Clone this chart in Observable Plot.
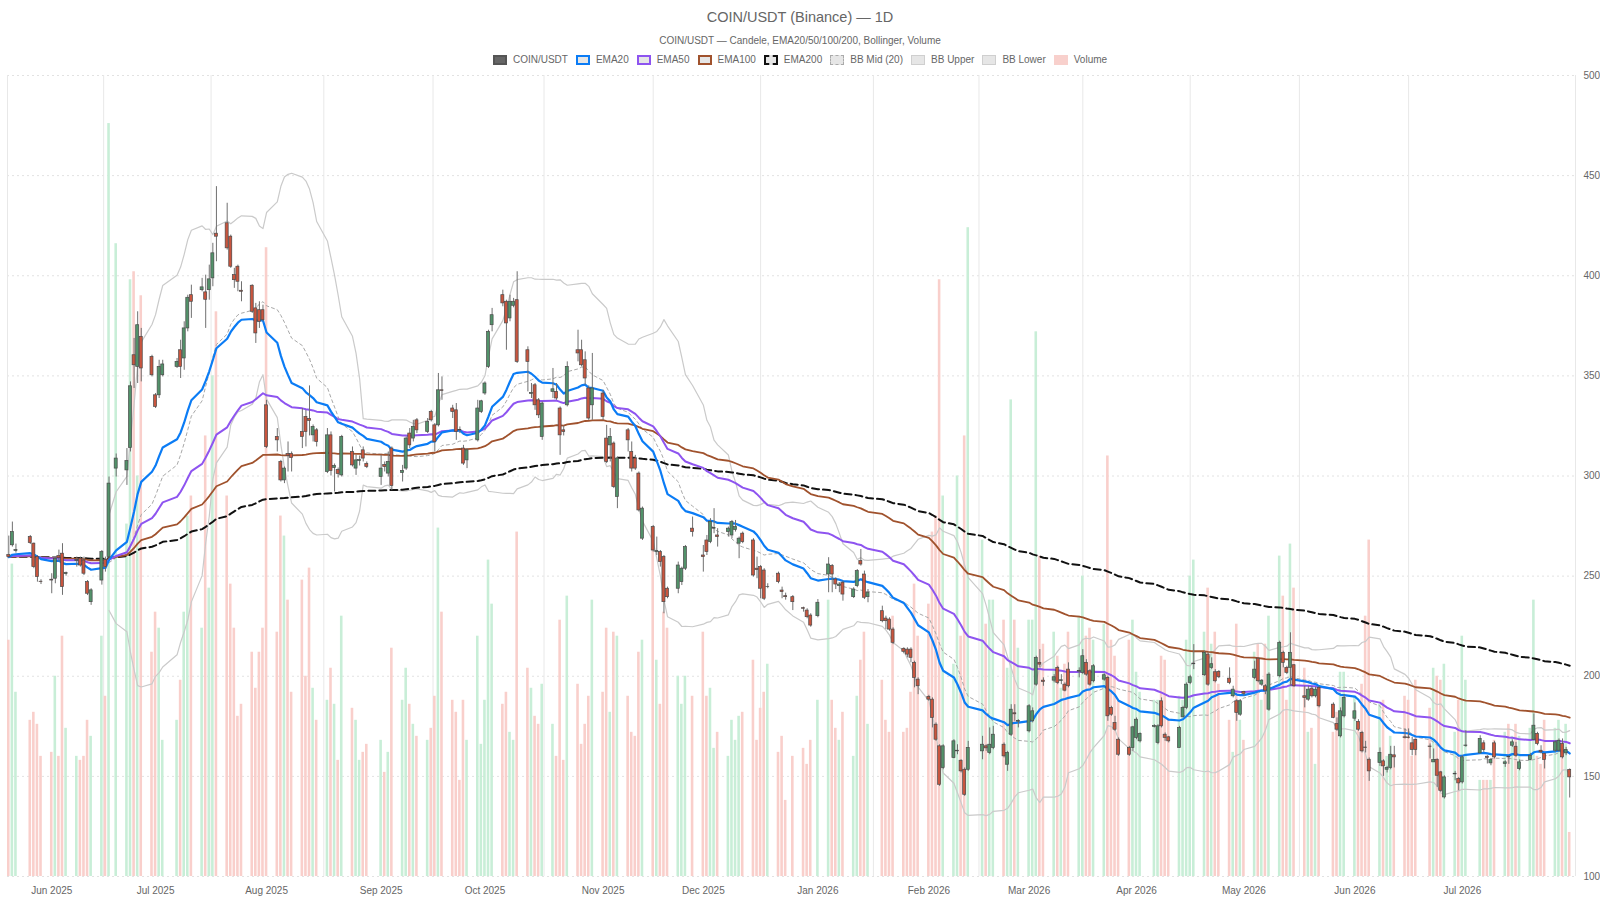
<!DOCTYPE html>
<html><head><meta charset="utf-8">
<script src="https://cdn.jsdelivr.net/npm/d3@7"></script>
<script src="https://cdn.jsdelivr.net/npm/@observablehq/plot@0.6"></script>
<style>
body{margin:0;background:#fff;font-family:"Liberation Sans",Arial,Helvetica,sans-serif;color:#666;}
#head{height:66px;position:relative;width:1600px;}
.title{position:absolute;top:9px;width:100%;text-align:center;font-size:14.5px;}
.sub{position:absolute;top:35px;width:100%;text-align:center;font-size:10px;}
.legend{position:absolute;top:54px;width:100%;display:flex;justify-content:center;font-size:10px;line-height:11px;}
.item{display:flex;align-items:center;margin:0 4px;}
.sw{width:14px;height:10px;box-sizing:border-box;margin-right:6px;background:#e6e6e6;}
</style></head>
<body>
<div id="head">
  <div class="title">COIN/USDT (Binance) — 1D</div>
  <div class="sub">COIN/USDT — Candele, EMA20/50/100/200, Bollinger, Volume</div>
  <div class="legend" id="legend"></div>
</div>
<div id="chart"></div>
<script>
// rows: [day, open, high, low, close, volume (M)]
const may2025 = [[21,260.5,270,259,259.5,5.9],[22,265.4,277,264.5,272,7.8],[23,262.5,266,261.5,263,4.6],[27,269.5,270.3,265.8,266.5,3.9],[28,266.2,266.5,253.7,254.5,4.1],[29,259.5,260.3,247,249.5,3.8],[30,247.2,248.2,245.8,247,3.0]];
const jun2025 = [[2,248.2,251.2,241.2,247.8,3.1],[3,248.7,259.5,246.2,258.7,5.0],[4,260,263,257,259,3.0],[5,261.2,266.2,240.4,244.5,6.0],[6,251,252,250,251.5,3.7],[9,257.5,259.5,254.5,258,3.0],[10,258.7,259.5,254.5,255.3,2.9],[11,257.8,259.5,250.3,251.2,3.0],[12,247,247.8,240.3,241.2,3.9],[13,237,243.7,235.4,242.9,3.5],[16,247.8,262.8,245.5,262,6.0],[17,258,259.5,252,254.5,4.5],[18,259.5,299.5,258.7,296.2,18.8],[20,303.7,311,299.5,308.7,15.8],[23,302.8,313.7,295.3,307.5,8.8],[24,314,347,312,344.8,14.9],[25,360.3,368.7,343.7,355.3,15.1],[26,354.5,382,346.2,375.3,10.0],[27,369.5,373.7,347,353.7,14.5],[30,359.5,360.3,349.5,350.3,5.6]];
const jul2025 = [[1,340.3,341.2,333.7,334.5,6.6],[2,340.3,357.8,338.7,354.5,6.2],[3,350.3,357.8,349.5,355.7,3.4],[7,354.5,358.7,353.7,357,3.9],[8,362.8,367.8,348.7,354.5,4.9],[9,358.7,377,352.8,373.7,6.6],[10,373.7,390.3,372,389,9.0],[11,390.3,395.3,378.7,387,9.5],[14,392.8,398.7,392,394.2,6.2],[15,391.7,400.3,373.7,388,11.0],[16,392.8,405.3,387.8,398.2,7.2],[17,398.7,416.2,394.5,411.2,12.5],[18,421,444.5,407,419.5,14.1],[21,426.2,436.2,412.8,413.7,9.5],[22,419.5,420.3,403.7,404.5,7.3],[23,400.3,403.7,393.7,397.8,6.2],[24,404.5,405.3,392,397,4.0],[25,392.5,397,387,392,4.3],[28,395,395.5,381.2,382,5.6],[29,383.7,386.2,366.2,371.2,4.7],[30,382.8,387,373.7,377,5.6],[31,382.8,385.3,377,377.8,6.2]];
const aug2025 = [[1,335.3,337.8,313.7,314.5,15.7],[4,319.5,323.7,312,317.8,6.1],[5,307,307.8,297,297.8,9.0],[6,297.8,304.5,296.2,303.7,8.5],[7,311,317,302,310,6.9],[8,311,312,302,309,4.6],[11,322,333.7,313.7,319.5,7.4],[12,329.5,332.8,314.5,322,5.0],[13,328.5,345,320,327.5,7.7],[14,320.3,325.5,317,324.5,4.7],[15,322.8,323.7,314.5,317,3.9],[18,302,323.7,301.2,320.3,4.4],[19,320.3,322,300,302.5,5.2],[20,304,306,292,305,4.3],[21,303,304,299,301,2.9],[22,300.3,320.3,299.5,319.5,6.5],[25,312,314.5,304.5,305.3,4.2],[26,303.7,310.3,300.3,307.8,3.9],[27,307.5,310,305,308,2.9],[28,312.8,314.5,307,308.7,3.1],[29,306,307,303.7,304.5,3.3]];
const sep2025 = [[2,299.5,310.3,295.3,303.7,3.4],[3,305.5,307,302,304.5,2.6],[4,301.2,312,299.5,307,3.1],[5,313.7,314.5,292.7,295,5.7],[8,301.5,305.3,297,302.5,4.4],[9,303.7,319.5,302.8,318.7,5.2],[10,321.2,323.7,313.7,315.3,4.3],[11,318.7,327.8,317,324.5,3.8],[12,327.8,328.7,321.2,322.8,3.5],[15,322,328.7,321.2,327,3.4],[16,332,332.8,327,327.8,3.7],[17,325.3,326.2,312,317,4.5],[18,325.3,351.2,324.5,342.8,8.7],[19,342.8,349.5,337.8,342.5,6.6],[22,333.7,335.3,328.7,332,4.4],[23,332.8,336.2,317.8,322,4.1],[24,323,324.5,321.2,322.8,2.4],[25,313.7,315.3,305.3,306.2,4.4],[26,307.8,313.7,303.7,312.8,3.4],[29,317.8,337.8,317,333.7,6.0],[30,332,337.8,331.2,337.3,3.3]];
const oct2025 = [[1,341.2,347,340.3,346.2,4.4],[2,354.5,372.8,353.7,372,7.9],[3,375.3,383.7,372,380.3,6.8],[6,390.3,392.8,384.5,386.2,4.3],[7,387,387.8,362.8,376.2,4.6],[8,378.7,390.3,377,387,3.6],[9,385,388.7,384,387,3.4],[10,387.8,402,356.2,357,8.6],[13,362.8,364.5,342,357,5.2],[14,341,346.2,338.7,341.5,4.7],[15,345.3,346.2,332.8,335.3,4.0],[16,337.8,338.7,328.7,330.3,3.8],[17,319.5,337,317.8,336.2,4.8],[20,342,353.7,338.7,343.3,3.8],[21,342,346.2,337.8,338.7,3.0],[22,333.7,334.5,310.3,320.3,6.4],[23,322.8,325,320,322,2.9],[24,335.3,357,334.5,354.5,7.0],[27,362.8,372.8,357,361.2,4.8],[28,362.8,367.8,354.5,355.3,3.3],[29,357.8,362,345.3,348.7,3.8],[30,343.7,345,327.8,328.7,4.5],[31,335.3,361.2,327.8,343.7,6.9]];
const nov2025 = [[3,341.2,342.8,327.8,329.5,4.6],[4,318.7,325.3,306.2,307,6.2],[5,315.3,323.7,307,319.5,4.1],[6,316.2,317,293.7,294.5,6.1],[7,289.5,309.5,283.7,308.7,6.0],[10,322.8,323.7,312,317.8,4.5],[11,312,317,302,303.7,3.6],[12,308.7,310.3,302.8,303.7,3.5],[13,301.2,302,282,282.8,5.6],[14,268.7,284.5,267.8,283.7,5.9],[17,274.5,275.3,262,262.8,8.5],[18,262,269.5,260.3,262.5,5.4],[19,262,262.8,254.5,257,4.3],[20,259.5,260.3,231.2,237,6.6],[21,243.7,244.5,238.7,239.5,6.2],[24,243.7,257,241.2,255.3,5.0],[25,247,254.5,245.3,253.7,4.3],[26,253.7,265.3,252.8,264.5,5.0],[28,273.7,279.5,269.5,272,4.5]];
const dec2025 = [[1,260.3,265.3,252,259.5,6.1],[2,267.8,270.3,260.3,262,4.5],[3,267,278.7,266.2,277,4.7],[4,273.7,283.7,271.2,274,3.2],[5,270.3,273.7,264.5,269.5,3.6],[8,272,274.5,269.5,273.7,3.0],[9,270.3,277.8,268.7,277,3.9],[10,273,277.8,272,274.5,3.4],[11,266.2,269.5,258.7,268.7,4.0],[12,271.2,272,266.2,267,4.1],[15,267.8,268.7,249.5,250.3,5.4],[16,253.7,259.5,248.7,253,3.4],[17,254.5,255.3,238.7,243.7,4.2],[18,252.8,253.7,237.8,238.7,4.6],[19,244.5,246.2,243.7,244.6,5.3],[22,251.2,252,246.2,247,3.1],[23,242.8,244.5,238.7,242,3.5],[24,240,241.5,238,239.5,1.9],[26,239.5,240.3,232.8,237,3.0],[29,234,234.5,232,233.7,3.2],[30,232.8,233.7,228.7,229.5,2.8],[31,230.3,231.2,224.5,225.3,3.4]];
const jan2026 = [[2,230,238.3,229.2,236.7,4.4],[5,250.8,259.2,241.7,255.8,6.9],[6,255,255.8,241.7,250.8,4.4],[7,248.3,249.2,243.3,245.8,3.7],[8,245,246.7,241.7,245.8,3.4],[9,246.7,247.5,237.5,240.8,4.1],[12,239.5,244.2,238.8,243.3,3.0],[13,245,253.3,244.2,252.5,4.5],[14,257.5,263.3,255,255.8,5.4],[15,250.8,252.5,238.3,239.2,6.1],[16,239.5,243.3,236.7,241.7,3.8],[20,232.5,235,226.7,227.5,4.9],[21,228.8,230,223.3,227.5,3.9],[22,228.3,229.2,222.5,223.3,3.6],[23,223.3,224.2,215.8,216.7,6.5],[26,213.7,214.2,211.2,212.2,3.6],[27,213.3,214.2,209.2,210.8,3.7],[28,213.3,214.2,206.7,209.2,4.6],[29,206.7,207.5,194.2,199.2,7.3],[30,198.3,199.2,190.8,195,6.0]];
const feb2026 = [[2,189.7,190.5,187.5,188.3,6.8],[3,188.3,189.2,174.2,179.2,8.6],[4,175.8,176.7,167.5,168.3,9.0],[5,165,165.8,145,145.8,14.9],[6,154.2,165.8,153.3,165,9.5],[9,159.2,168.3,158.8,167.5,5.3],[10,162.5,165.8,160.8,162.8,10.0],[11,157.8,158.3,151.7,152.5,6.0],[12,153.3,154.2,140,140.8,11.0],[13,153.3,167.5,152.5,164.2,16.2],[17,162.5,170,158.3,165.8,8.4],[18,165,165.8,162.5,164,6.3],[19,161.7,174.2,160.8,165.8,6.9],[20,164.2,175,163.3,170.8,6.9],[23,165.8,166.7,159.2,160,6.4],[24,155.8,162.5,152.5,161.7,5.2],[25,170.8,185.8,170,183.3,11.9],[26,181.5,185.8,177.5,181,6.4],[27,177.3,178.3,174.2,177.7,5.7]];
const mar2026 = [[2,172.5,185.8,171.7,185,6.4],[3,177.5,184.2,176.7,182.5,6.4],[4,195.8,210,195,209.2,13.6],[5,206.7,213.3,204.2,205.8,8.0],[6,197.8,199.2,195,197.2,5.8],[9,197.8,200.8,196.7,199.5,6.1],[10,204.2,205,195.8,196.7,5.5],[11,197.6,200.8,195.8,198,4.7],[12,195.8,196.7,192.2,192.8,5.3],[13,203.3,206.7,194.2,195,6.1],[16,202.3,204.2,199.2,202.7,6.5],[17,201.7,213.3,200.8,210,7.5],[18,206.7,208.3,200,200.8,6.0],[19,202.5,203.3,195,195.8,6.2],[20,197.5,205.8,196.7,205,5.9],[23,198.3,201.2,197.5,200.5,6.3],[24,199.2,200,177.5,180,10.5],[25,184.2,185,180,180.8,5.9],[26,176.7,180,172.5,173.3,5.5],[27,168.3,169.2,160,160.8,4.4],[30,164.2,165,160,160.8,5.9],[31,164.2,175,162.5,174.5,6.4]];
const apr2026 = [[1,169.2,179.2,168.3,178.3,5.1],[2,167.5,171.7,166.7,171.2,4.6],[6,174.7,175.8,174.2,175.1,4.4],[7,166.7,175.8,165.8,175,4.4],[8,187.5,189.2,174.2,175,5.5],[9,170.8,171.7,167.5,169.2,5.4],[10,169.5,170,166.7,167.5,3.9],[13,164.2,175,164.2,174.2,4.5],[14,179.5,185,179.2,184.2,4.4],[15,184.2,196.7,183.3,195.8,5.9],[16,196.7,200.5,195.8,199.5,7.5],[17,206,215.8,203.3,206.3,7.9],[20,200.5,212.5,200,211.7,6.1],[21,210.8,211.7,195,195.8,7.2],[22,204.2,209.2,203.3,206,5.8],[23,202,203.3,196.7,197.5,6.1],[24,202.2,202.8,198.8,199.5,4.8],[27,198.8,204.2,195.8,196.7,3.9],[28,190,195,189.2,193.3,3.1],[29,187.5,188.3,177.5,181.7,6.3],[30,180.8,188.3,180,187.5,3.9]];
const may2026 = [[1,192.2,192.5,190,191.2,3.4],[4,199.2,207.5,198.3,203.3,5.6],[5,208.8,209.2,196.7,197.5,5.8],[6,195.8,198.3,195,197.8,4.4],[7,195,195.8,190.8,192.8,5.8],[8,183.3,201.7,182.5,200.8,6.5],[11,200,217.5,199.2,216.7,8.0],[12,211.7,212.5,204.2,206.7,7.0],[13,204.2,205,200.8,201.7,4.4],[14,204.2,221.7,195,211.7,8.3],[15,205.5,205.8,194.5,195,7.2],[18,190,195,184.2,189.2,5.2],[19,188.3,195,187.5,193.3,3.6],[20,193.8,195,189.2,190,3.7],[21,190,194.5,189.2,193.3,2.8],[22,194.2,195,184.2,185,4.4],[26,185.8,186.7,178.8,179.2,3.6],[27,176.2,179.2,172.5,173.3,4.1],[28,170,184.2,169.2,182.5,5.1],[29,180,190.8,179.2,189.2,5.1]];
const jun2026 = [[1,178.8,186.7,177.5,182.5,4.5],[2,177.2,178.3,172.5,173.3,3.7],[3,171.7,172.5,161.7,162.5,4.8],[4,164.4,167.5,161.7,164.2,6.5],[5,158.3,159.2,147.5,152.5,8.4],[8,156.7,164.2,155,161.7,4.3],[9,157.5,158.3,150,155,4.4],[10,153.3,155,151.7,154.2,3.0],[11,154.2,165,153.3,160.8,3.5],[12,160.5,165,154.2,159.5,3.0],[15,169.5,173.7,168.7,169.2,4.5],[16,169.4,173.7,168.7,169.1,4.4],[17,166.5,169.5,160.3,163.2,3.0],[18,168.2,168.7,160.3,163.2,4.9],[22,164.9,166.2,158.7,164.7,4.2],[23,157,163.7,157,158.2,5.2],[24,158.3,158.7,144.5,150.3,5.0],[25,152,152.5,142,142.8,4.9],[26,139.5,150.3,138.7,149.5,5.3],[29,151,152.5,147.8,151.3,3.6],[30,148.7,149.5,142.8,146.5,4.4]];
const jul2026 = [[1,147,160.3,146.2,159.5,6.0],[2,165.2,172.8,164.5,165.4,4.9],[6,161.5,170.3,161.2,168.7,2.4],[7,166.5,167.8,162,163.2,2.4],[8,159.8,160.3,156.2,159.2,2.4],[9,156.5,158.7,155.3,158.2,2.4],[10,166.5,167.5,158.7,159.5,3.4],[13,156.2,157.8,154.5,157,3.6],[14,159.8,160.3,156,159.5,3.8],[15,165.3,168.2,164.5,167,3.5],[16,164.8,167,159.5,160.3,3.8],[17,153.7,158.2,152.8,157,3.5],[20,158.2,161.5,157.8,160.3,3.7],[21,168.2,181.2,167.8,175.3,6.9],[22,171.2,172,165.3,166.2,3.0],[23,162.8,165.3,161.2,162,2.8],[24,161.2,161.5,153.7,158.2,3.9],[27,162.8,167.8,162,167,3.7],[28,162.8,168.7,162,167.8,3.9],[29,166.2,168.7,158.7,159.5,3.1],[30,161.5,164.5,160.3,163.2,3.8],[31,153.2,153.7,139.2,149.5,1.1]];

const monthBlocks = [["2025-05",may2025],["2025-06",jun2025],["2025-07",jul2025],["2025-08",aug2025],["2025-09",sep2025],["2025-10",oct2025],["2025-11",nov2025],["2025-12",dec2025],["2026-01",jan2026],["2026-02",feb2026],["2026-03",mar2026],["2026-04",apr2026],["2026-05",may2026],["2026-06",jun2026],["2026-07",jul2026]];
const yTicks = [100,150,200,250,300,350,400,450,500];
const VOL_MAX = 20; // volume axis (M) spans the full price height

const legendItems = [
  {label:"COIN/USDT", bg:"#666", border:"2px solid #555"},
  {label:"EMA20", border:"2px solid #0b7cf5"},
  {label:"EMA50", border:"2px solid #8e54f0"},
  {label:"EMA100", border:"2px solid #a0522d"},
  {label:"EMA200", border:"2px dashed #111"},
  {label:"BB Mid (20)", border:"1px dashed #aaa"},
  {label:"BB Upper", border:"1px solid #cfcfcf"},
  {label:"BB Lower", border:"1px solid #cfcfcf"},
  {label:"Volume", bg:"#f8d0cc", border:"none"}
];
const lg = document.getElementById("legend");
for (const it of legendItems) {
  const d = document.createElement("div"); d.className = "item";
  const s = document.createElement("div"); s.className = "sw";
  if (it.bg) s.style.background = it.bg;
  s.style.border = it.border;
  const t = document.createElement("span"); t.textContent = it.label;
  d.appendChild(s); d.appendChild(t); lg.appendChild(d);
}

const data = monthBlocks.flatMap(([ym, rows]) => rows.map(([d,o,h,l,c,v]) => ({
  date: new Date(`${ym}-${String(d).padStart(2,"0")}T00:00:00Z`), open:o, high:h, low:l, close:c, volume:v
})));
const DAY = 864e5;
const closes = data.map(d => d.close);
function ema(arr, n) { const k = 2/(n+1); let p; return arr.map((v,i) => p = (i === 0 ? v : v*k + p*(1-k))); }
const e20 = ema(closes,20), e50 = ema(closes,50), e100 = ema(closes,100), e200 = ema(closes,200);
const bb = data.map((d,i) => {
  if (i < 19) return null;
  const w = closes.slice(i-19, i+1); const m = d3.mean(w);
  const sd = Math.sqrt(d3.mean(w, x => (x-m)*(x-m)));
  return {date:d.date, mid:m, up:m+2*sd, lo:m-2*sd};
}).filter(Boolean);
const series = (arr) => data.map((d,i) => ({date:d.date, v:arr[i]}));

const d0 = new Date(+data[0].date - 0.36*DAY);
const d1 = new Date(+data[data.length-1].date + 1.62*DAY);
// tick at the first trading day of each month (from June 2025)
const monthTicks = monthBlocks.slice(1).map(([ym, rows]) => new Date(`${ym}-${String(rows[0][0]).padStart(2,"0")}T00:00:00Z`));
const gridX = [d0, d1];
for (let k = 0; k < monthTicks.length-1; k++) gridX.push(new Date((+monthTicks[k] + +monthTicks[k+1])/2));

const up = d => d.close >= d.open;
const chart = Plot.plot({
  width: 1600, height: 834,
  marginTop: 9, marginBottom: 24, marginLeft: 7, marginRight: 25,
  style: {fontFamily: "'Liberation Sans', Arial, sans-serif", fontSize: "10px", color: "#666", background: "#fff", overflow: "visible"},
  x: {type: "utc", domain: [d0, d1], ticks: monthTicks, tickFormat: d3.utcFormat("%b %Y"), tickSize: 0, tickPadding: 10, label: null},
  y: {domain: [100, 500], ticks: yTicks, axis: "right", tickSize: 0, tickPadding: 8, label: null},
  marks: [
    Plot.ruleY(yTicks, {stroke: "#e2e2e2", strokeDasharray: "2,3"}),
    Plot.ruleX(gridX, {stroke: "#e8e8e8", strokeWidth: 1}),
    Plot.rect(data, {x1: d => new Date(+d.date - 0.36*DAY), x2: d => new Date(+d.date + 0.36*DAY), y1: 100, y2: d => 100 + d.volume/VOL_MAX*400, fill: d => up(d) ? "#c8eed7" : "#f9cfcb"}),
    Plot.line(bb, {x: "date", y: "lo", stroke: "#cacaca", strokeWidth: 1.2}),
    Plot.line(bb, {x: "date", y: "up", stroke: "#cacaca", strokeWidth: 1.2}),
    Plot.line(bb, {x: "date", y: "mid", stroke: "#a8a8a8", strokeWidth: 1, strokeDasharray: "3,3"}),
    Plot.line(series(e200), {x: "date", y: "v", stroke: "#111", strokeWidth: 2, strokeDasharray: "7,4"}),
    Plot.line(series(e100), {x: "date", y: "v", stroke: "#a0522d", strokeWidth: 1.8}),
    Plot.line(series(e50), {x: "date", y: "v", stroke: "#8e54f0", strokeWidth: 2}),
    Plot.line(series(e20), {x: "date", y: "v", stroke: "#0b7cf5", strokeWidth: 2.2}),
    Plot.ruleX(data, {x: "date", y1: "low", y2: "high", stroke: "#707070", strokeWidth: 1}),
    Plot.rect(data, {x1: d => new Date(+d.date - 0.42*DAY), x2: d => new Date(+d.date + 0.42*DAY), y1: "open", y2: "close", fill: d => up(d) ? "#52926a" : "#c9553e", stroke: "#4a4a4a", strokeWidth: 0.7})
  ]
});
document.getElementById("chart").appendChild(chart);
</script>
</body></html>
